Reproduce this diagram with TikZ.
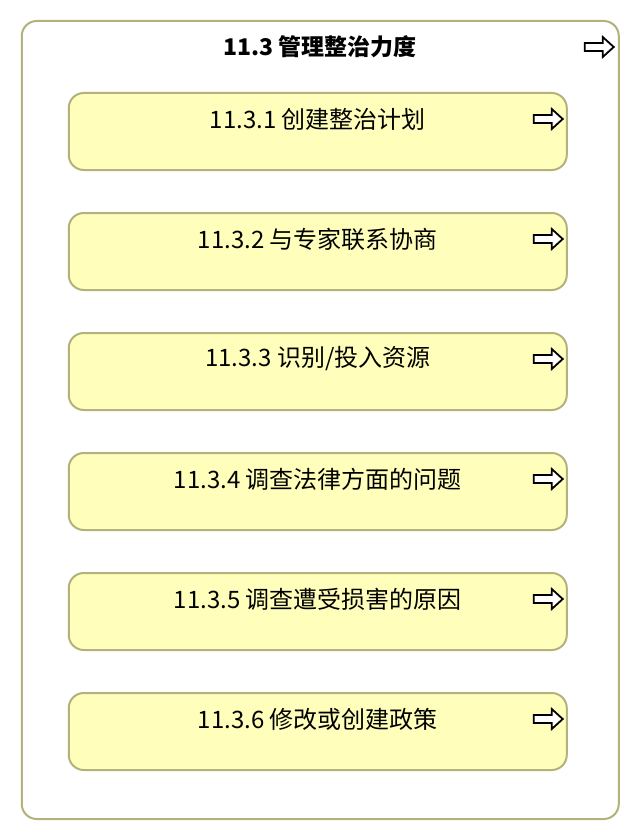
\documentclass[tikz,border=0pt]{standalone}
\usepackage{fontspec}
\setmainfont{Noto Sans CJK SC}
\usetikzlibrary{calc,positioning}

\definecolor{boxline}{RGB}{178,178,122}
\definecolor{boxfill}{RGB}{255,255,187}

\tikzset{
  groupbox/.style={draw=boxline, line width=2pt, rounded corners=15pt, fill=white,
    minimum width=597pt, minimum height=798pt},
  taskbox/.style={draw=boxline, line width=2pt, rounded corners=15pt, fill=boxfill,
    minimum width=498pt, minimum height=77pt},
  grouptext/.style={font=\fontsize{23}{27}\selectfont\bfseries},
  tasktext/.style={font=\fontsize{24}{28}\selectfont},
  arrowicon/.style={draw=black, line width=1.8pt, fill=white, line join=miter}
}

% outlined arrow, tip at #1
\newcommand{\flowarrow}[1]{%
  \draw[arrowicon] ($(#1)+(-29,-4)$) -- ++(18,0) -- ++(0,-6) -- ++(11,10)
    -- ++(-11,10) -- ++(0,-6) -- ++(-18,0) -- cycle;}

\begin{document}
\begin{tikzpicture}[x=1pt, y=-1pt]
	\useasboundingbox (0,0) rectangle (640,840);
	
	% outer group
	\node[groupbox] (group) at (320.25,420) {};
	\node[grouptext] (grouptitle) at (320,47) {11.3 管理整治力度};
	\coordinate (grouptip) at ($(group.east|-grouptitle)+(-6,0)$);
	\flowarrow{grouptip}
	
	% tasks
	\foreach \i/\txt in {1/创建整治计划, 2/与专家联系协商, 3/{识别/投入资源},
	                     4/调查法律方面的问题, 5/调查遭受损害的原因, 6/修改或创建政策} {
		\node[taskbox] (task\i) at (317.75, {131.5+120*(\i-1)}) {};
		\node[tasktext] (tasktitle\i) at ($(task\i.north)+(0,27)$) {11.3.\i\ \txt};
		\coordinate (tasktip\i) at ($(task\i.east|-tasktitle\i)+(-5,0)$);
		\flowarrow{tasktip\i}
	}
\end{tikzpicture}
\end{document}
